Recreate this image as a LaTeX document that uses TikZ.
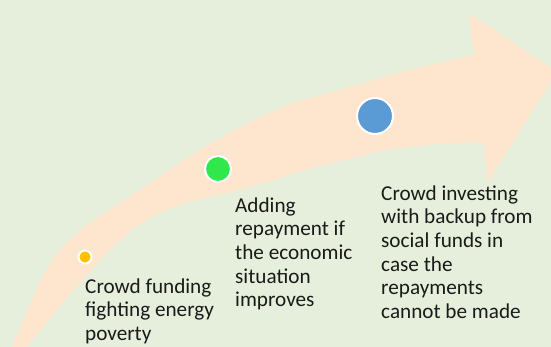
\documentclass[tikz,border=0pt]{standalone}
\usepackage{fontspec}
\setmainfont{Carlito}
\definecolor{bgcol}{HTML}{E6EFDB}
\definecolor{peach}{HTML}{FDE6CD}
\definecolor{dotyellow}{HTML}{FFC000}
\definecolor{dotgreen}{HTML}{2EE84C}
\definecolor{dotblue}{HTML}{5B9BD5}
\definecolor{txt}{HTML}{1A1A1A}
\tikzset{
  dot/.style={circle, draw=white, line width=2pt, inner sep=0pt},
  % multi-line nodes sit on the baseline of their last line
  label text/.style={anchor=base west, align=left, inner sep=0pt,
    text=txt, font=\fontsize{21.2}{23.7}\selectfont}
}
\begin{document}
\begin{tikzpicture}[x=1pt,y=-1pt]
  \useasboundingbox (0,0) rectangle (551,347);
  \fill[bgcol] (0,0) rectangle (551,347);
  \begin{scope}
    \clip (0,0) rectangle (551,347);
    % curved arrow band with its head
    \fill[peach]
      plot[smooth, tension=0.6] coordinates
        {(4,360) (12,347) (60,250) (150,183) (217,140) (283,107) (350,87) (400,72) (474,55)}
      -- (469,13) -- (557,72) -- (488,182) -- (483,142)
      -- plot[smooth, tension=0.6] coordinates
        {(483,142) (400,148) (317,167) (250,187) (167,210) (110,250) (27,347) (20,360)}
      -- cycle;
  \end{scope}
  % milestones along the arrow
  \node[dot, fill=dotyellow, minimum size=13pt] (d1) at (85,257) {};
  \node[dot, fill=dotgreen,  minimum size=26pt] (d2) at (218,169) {};
  \node[dot, fill=dotblue,   minimum size=36pt] (d3) at (375,116) {};
  % labels
  \node[label text] (t1) at (85,340.4) {Crowd funding\\fighting energy\\poverty};
  \node[label text] (t2) at (235,306.8) {Adding\\repayment if\\the economic\\situation\\improves};
  \node[label text] (t3) at (381,318.5) {Crowd investing\\with backup from\\social funds in\\case the\\repayments\\cannot be made};
\end{tikzpicture}
\end{document}
